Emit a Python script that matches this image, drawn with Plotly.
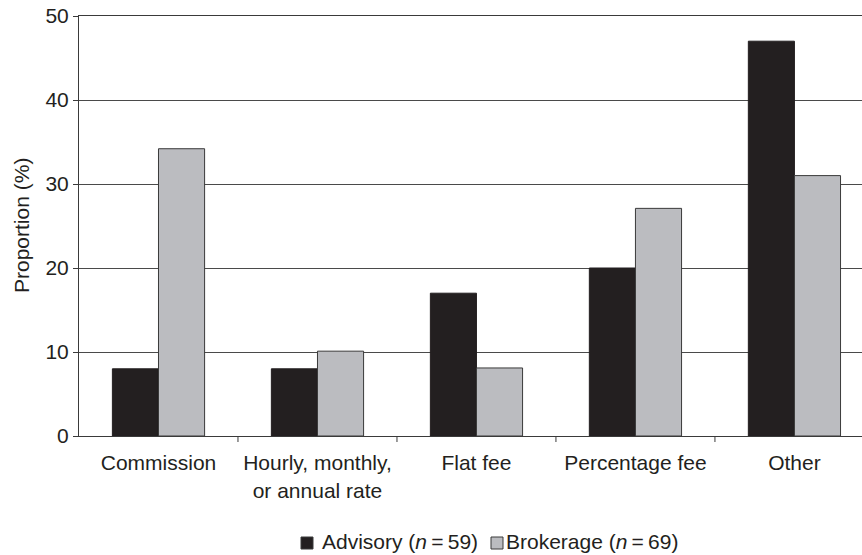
import plotly.graph_objects as go

categories = ["Commission", "Hourly, monthly,<br>or annual rate", "Flat fee", "Percentage fee", "Other"]
advisory = [8.0, 8.0, 17.0, 20.0, 47.0]
brokerage = [34.2, 10.1, 8.1, 27.1, 31.0]
y_ticks = [0, 10, 20, 30, 40, 50]
series_names = ["Advisory (<i>n</i>\u2009=\u200959)", "Brokerage (<i>n</i>\u2009=\u200969)"]
series_colors = ["#231f20", "#bbbcc0"]

FONT = "Liberation Sans, Arial, sans-serif"
FS = 21
W, H = 862, 555
ML, MR, MT = 79, 0, 16
MB = H - 436
plot_w = W - ML - MR
plot_h = H - MT - MB

fig = go.Figure()
fig.add_trace(go.Bar(x=list(range(len(categories))), y=advisory, name=series_names[0],
                     marker=dict(color=series_colors[0], line=dict(color="#231f20", width=1)),
                     showlegend=False))
fig.add_trace(go.Bar(x=list(range(len(categories))), y=brokerage, name=series_names[1],
                     marker=dict(color=series_colors[1], line=dict(color="#3a3a3a", width=1)),
                     showlegend=False))

fig.update_layout(
    width=W, height=H,
    margin=dict(l=ML, r=MR, t=MT, b=MB, autoexpand=False),
    paper_bgcolor="white", plot_bgcolor="white",
    barmode="group", bargap=0.42, bargroupgap=0,
    font=dict(family=FONT, size=FS, color="#231f20"),
    showlegend=False,
    xaxis=dict(
        tickmode="array", tickvals=list(range(len(categories))), ticktext=categories,
        range=[-0.5, 4.425], showgrid=False, zeroline=False, automargin=False,
        showline=True, linecolor="#3a3a3a", linewidth=1, mirror=True,
        ticks="outside", ticklen=8, tickcolor="rgba(0,0,0,0)", tickfont=dict(size=FS),
    ),
    yaxis=dict(
        range=[0, 50], tickvals=y_ticks, showgrid=True, gridcolor="#4a4a4a", gridwidth=1,
        zeroline=False, showline=True, linecolor="#3a3a3a", linewidth=1, automargin=False,
        ticks="outside", ticklen=5, tickcolor="#3a3a3a", tickfont=dict(size=FS),
        ticklabeloverflow="allow",
    ),
)

# category boundary ticks on the x axis
for b in [0.5, 1.5, 2.5, 3.5]:
    fig.add_shape(type="line", xref="x", yref="paper", x0=b, x1=b, y0=0, y1=-6 / plot_h,
                  line=dict(color="#3a3a3a", width=1))

# pixel -> paper helpers
def px_x(x):
    return (x - ML) / plot_w

def px_y(y):
    return (H - MB - y) / plot_h

# y-axis title
fig.add_annotation(xref="paper", yref="paper", x=px_x(21), y=px_y(226),
                   xanchor="center", yanchor="middle", text="Proportion (%)", textangle=-90,
                   showarrow=False, font=dict(size=FS, family=FONT, color="#231f20"))

# compact legend below the plot
legend_items = [(301, 323), (491, 507)]
for (sq_x, tx_x), name, col in zip(legend_items, series_names, series_colors):
    fig.add_shape(type="rect", xref="paper", yref="paper",
                  x0=px_x(sq_x), x1=px_x(sq_x + 12), y0=px_y(549), y1=px_y(537),
                  fillcolor=col, line=dict(color="#3a3a3a", width=1))
    fig.add_annotation(xref="paper", yref="paper", x=px_x(tx_x), y=px_y(541),
                       xanchor="left", yanchor="middle", text=name, showarrow=False,
                       xshift=-3, font=dict(size=FS, family=FONT, color="#231f20"))

fig.write_html("out.html", config={"displayModeBar": False},
               post_script="document.body.style.margin='0';document.body.style.overflow='hidden';")
